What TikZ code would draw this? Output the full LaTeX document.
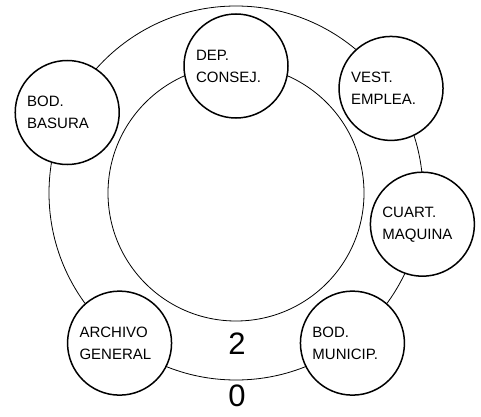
\documentclass[tikz,border=0pt]{standalone}
\usepackage{fontspec}
\setmainfont{Liberation Sans}
\usetikzlibrary{positioning}

\begin{document}
\begin{tikzpicture}[
  x=1pt,y=1pt,
  room/.style={
    draw,
    circle,
    fill=white,
    line width=1.5pt,
    minimum size=104pt,
    inner sep=0pt,
    outer sep=0pt,
    text width=80pt,
    align=left,
    font=\fontsize{15}{22}\selectfont
  },
  ring/.style={draw,line width=0.8pt},
  level/.style={font=\fontsize{31}{31}\selectfont,inner sep=0pt}
]
  \useasboundingbox (0,0) rectangle (481,416);
  \begin{scope}[shift={(236,223)}]
    \coordinate (centre) at (0,0);
    \draw[ring] (centre) circle (187);
    \draw[ring] (centre) circle (128);
    \node[room] (dep) at (90:127) {DEP.\\CONSEJ.};
    \node[room] (vest) at (34:187) {VEST.\\EMPLEA.};
    \node[room] (basura) at (154.5:187) {BOD.\\BASURA};
    \node[room] (cuart) at (-9.5:189) {CUART.\\MAQUINA};
    \node[room] (municip) at (-52.2:190) {BOD.\\MUNICIP.};
    \node[room] (archivo) at (-127.8:190) {ARCHIVO\\GENERAL};
    \node[level] (two) at (1,-151) {2};
    \node[level] (zero) at (1,-203) {0};
  \end{scope}
\end{tikzpicture}
\end{document}
